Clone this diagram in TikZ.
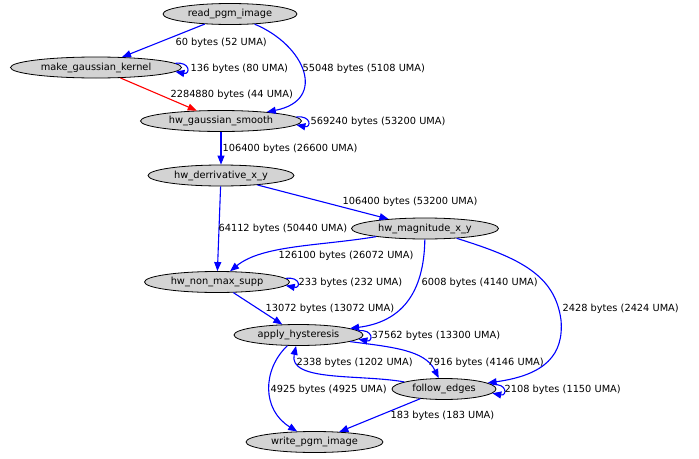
\documentclass[tikz,border=0pt]{standalone}
\usepackage{fontspec}
\setmainfont{DejaVu Sans}
\usetikzlibrary{shapes.geometric,arrows.meta}
\definecolor{nodegray}{RGB}{211,211,211}
\begin{document}
\begin{tikzpicture}[x=1pt,y=-1pt,font=\fontsize{9.8}{11}\selectfont,
    func/.style={ellipse,draw=black,line width=0.8pt,fill=nodegray,inner sep=0pt,minimum height=21pt,
        text height=7.2pt,text depth=1.6pt},
    flow/.style={draw=blue,line width=1.1pt,-{Triangle[length=9pt,width=7pt]}},
    hot/.style={flow,draw=red},
    lbl/.style={anchor=west,inner sep=0pt,yshift=-1.5pt,text=black}]
    \useasboundingbox (0,0) rectangle (699,458);
    % functions
    \node[func,minimum width=134pt] (read) at (230,14) {read\_pgm\_image};
    \node[func,minimum width=171pt] (mgk) at (96,67.5) {make\_gaussian\_kernel};
    \node[func,minimum width=161pt] (hgs) at (221,121) {hw\_gaussian\_smooth};
    \node[func,minimum width=146pt] (hdxy) at (221,175.5) {hw\_derrivative\_x\_y};
    \node[func,minimum width=147pt] (hmag) at (425,228.5) {hw\_magnitude\_x\_y};
    \node[func,minimum width=145pt] (hnms) at (217,282) {hw\_non\_max\_supp};
    \node[func,minimum width=129pt] (ah) at (298.5,335) {apply\_hysteresis};
    \node[func,minimum width=104pt] (fe) at (444,389) {follow\_edges};
    \node[func,minimum width=137pt] (wpi) at (314.5,442) {write\_pgm\_image};
    % transfers
    \draw[flow] (read) -- (mgk) node[lbl] at (175,41) {60 bytes (52 UMA)};
    \draw[flow] (read) .. controls (305,45) and (328,100) .. (hgs)
        node[lbl] at (302,67) {55048 bytes (5108 UMA)};
    \draw[flow] (mgk.3) .. controls +(15,-2) and +(15,3) .. (mgk.-3)
        node[lbl] at (190,67) {136 bytes (80 UMA)};
    \draw[hot] (mgk) -- (hgs) node[lbl] at (170,93) {2284880 bytes (44 UMA)};
    \draw[flow] (hgs.3) .. controls +(15,-2) and +(15,3) .. (hgs.-3)
        node[lbl] at (310,120) {569240 bytes (53200 UMA)};
    \draw[flow] (hgs) -- (hdxy) node[lbl] at (222,147) {106400 bytes (26600 UMA)};
    \draw[flow] (hdxy) -- (hmag) node[lbl] at (342,200) {106400 bytes (53200 UMA)};
    \draw[flow] (hdxy) -- (hnms) node[lbl] at (218,227) {64112 bytes (50440 UMA)};
    \draw[flow] (hmag) .. controls (320,246) and (262,245) .. (hnms)
        node[lbl] at (278,254) {126100 bytes (26072 UMA)};
    \draw[flow] (hnms.3) .. controls +(15,-2) and +(15,3) .. (hnms.-3)
        node[lbl] at (298,281) {233 bytes (232 UMA)};
    \draw[flow] (hnms) -- (ah) node[lbl] at (265,307) {13072 bytes (13072 UMA)};
    \draw[flow] (hmag) .. controls (424,295) and (400,322) .. (ah)
        node[lbl] at (421,281) {6008 bytes (4140 UMA)};
    \draw[flow] (hmag) .. controls (520,258) and (555,275) .. (561,320)
        .. controls (564,355) and (545,375) .. (fe)
        node[lbl] at (562,307) {2428 bytes (2424 UMA)};
    \draw[flow] (ah.4) .. controls +(15,-2) and +(15,3) .. (ah.-4)
        node[lbl] at (371,334) {37562 bytes (13300 UMA)};
    \draw[flow] (ah) .. controls (392,347) and (425,350) .. (fe)
        node[lbl] at (427,361) {7916 bytes (4146 UMA)};
    \draw[flow] (fe) .. controls (360,374) and (288,382) .. (ah)
        node[lbl] at (296,361) {2338 bytes (1202 UMA)};
    \draw[flow] (fe.5) .. controls +(15,-2) and +(15,3) .. (fe.-5)
        node[lbl] at (504,388) {2108 bytes (1150 UMA)};
    \draw[flow] (ah) .. controls (262,370) and (262,410) .. (wpi)
        node[lbl] at (270,388) {4925 bytes (4925 UMA)};
    \draw[flow] (fe) -- (wpi) node[lbl] at (390,414) {183 bytes (183 UMA)};
\end{tikzpicture}
\end{document}
